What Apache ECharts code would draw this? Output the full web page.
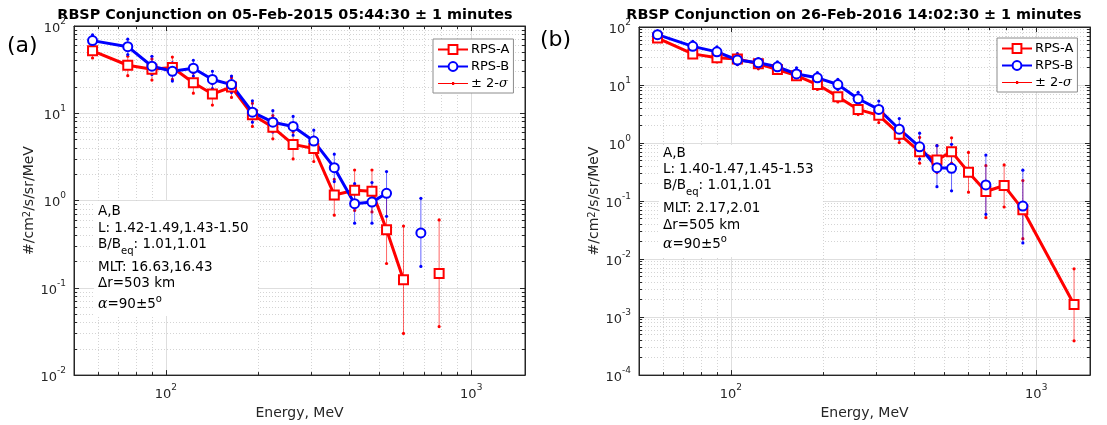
<!DOCTYPE html>
<html><head><meta charset="utf-8">
<script src="https://cdn.jsdelivr.net/npm/echarts@6/dist/echarts.min.js"></script>
<style>html,body{margin:0;padding:0;background:#fff}#c{width:1107px;height:425px}</style>
</head><body><div id="c"></div>
<script>
// Energy channels (MeV)
const energies = [57.5, 75, 90, 105, 123, 142, 164, 192, 224, 261, 305, 356, 415, 473, 528, 600, 684, 785, 904, 1330];

// Panel (a) 05-Feb-2015
const aRed    = [52, 35.5, 32, 33.5, 22.4, 16.6, 20, 9.6, 6.9, 4.4, 3.95, 1.16, 1.31, 1.28, 0.464, 0.124, null, 0.146, null, null];
const aRedLo  = [43, 27, 24, 24.4, 17, 12.4, 15.2, 7.06, 5.1, 3.0, 2.8, 0.68, 0.77, 0.74, 0.19, 0.030, null, 0.036, null, null];
const aRedHi  = [62, 45, 42, 44, 29, 22, 25.6, 13, 9.4, 6.1, 5.35, 1.75, 2.24, 2.24, 1.13, 0.51, null, 0.60, null, null];
const aBlue   = [68, 58, 34.6, 30.3, 32.8, 24.4, 21.3, 10.3, 7.9, 7.06, 4.8, 2.38, 0.92, 0.96, 1.21, null, 0.426, null, null, null];
const aBlueLo = [58, 47, 27.9, 23.4, 26.7, 19.2, 17.3, 7.9, 6.1, 5.6, 3.8, 1.65, 0.55, 0.55, 0.66, null, 0.176, null, null, null];
const aBlueHi = [79, 70.7, 45, 37.8, 40.5, 30.3, 26.7, 13.9, 10.7, 9.2, 6.4, 3.4, 1.56, 1.61, 2.15, null, 1.06, null, null, null];

// Panel (b) 26-Feb-2016
const bRed    = [64.6, 34.4, 29.4, 28, 23.3, 18.5, 14.5, 10.2, 6.3, 3.8, 3.0, 1.42, 0.71, 0.51, 0.71, 0.313, 0.146, 0.185, 0.071, 0.00165];
const bRedLo  = [56.6, 30.5, 25, 22.5, 19, 15.8, 12.5, 8.4, 5.1, 3.1, 2.25, 1.02, 0.45, 0.31, 0.45, 0.142, 0.052, 0.079, 0.0225, 0.00039];
const bRedHi  = [74, 40.8, 35.8, 34, 27, 21.9, 17.5, 12.5, 7.2, 4.8, 3.9, 2.03, 1.25, 0.9, 1.23, 0.69, 0.41, 0.42, 0.225, 0.0068];
const bBlue   = [73.8, 46.4, 37.3, 27, 24.2, 20.6, 15.5, 13.3, 10.2, 5.8, 3.8, 1.73, 0.86, 0.376, 0.366, null, 0.19, null, 0.082, null];
const bBlueLo = [65, 38, 30.5, 22.5, 19.8, 16.3, 13.3, 11, 8.4, 4.35, 2.75, 1.17, 0.53, 0.177, 0.15, null, 0.059, null, 0.019, null];
const bBlueHi = [86, 56.6, 45.4, 34.8, 28.6, 25, 19.8, 16.3, 12.5, 7.5, 5.3, 2.64, 1.48, 0.9, 0.95, null, 0.62, null, 0.34, null];

const titles = ['RBSP Conjunction on 05-Feb-2015 05:44:30 \u00b1 1 minutes', 'RBSP Conjunction on 26-Feb-2016 14:02:30 \u00b1 1 minutes'];
const seriesNames = ['RPS-A', 'RPS-B', '\u00b1 2-\u03c3'];
const infoA = ['A,B', 'L: 1.42-1.49,1.43-1.50', 'B/B{sub|eq}: 1.01,1.01', 'MLT: 16.63,16.43', '\u0394r=503 km', '{a|\u03b1}=90\u00b15{sup|o}'];
const infoB = ['A,B', 'L: 1.40-1.47,1.45-1.53', 'B/B{sub|eq}: 1.01,1.01', 'MLT: 2.17,2.01', '\u0394r=505 km', '{a|\u03b1}=90\u00b15{sup|o}'];
const xRange = [50, 1500];
const yRanges = [[0.01, 100], [0.0001, 100]];

const FONT = 'DejaVu Sans';
const DARK = '#262626';

function pairs(vals) { return energies.map((e, i) => [e, vals[i] == null ? '-' : vals[i]]); }
function errs(lo, hi) { const out = []; energies.forEach((e, i) => { if (lo[i] != null) out.push([e, lo[i], hi[i]]); }); return out; }
function logLabel(v) {
  const e = Math.log10(v), r = Math.round(e);
  if (Math.abs(e - r) > 1e-6) return '';
  return '{b|10}{s|' + r + '}';
}
const tickRich = {
  b: { fontFamily: FONT, fontSize: 13, color: DARK, lineHeight: 18, verticalAlign: 'bottom' },
  s: { fontFamily: FONT, fontSize: 9, color: DARK, lineHeight: 8, verticalAlign: 'top' }
};
const grids = [
  { left: 74, top: 26, width: 451, height: 353 },
  { left: 639, top: 27, width: 451, height: 352 }
];
function axisCommon(isMain) {
  return {
    type: 'log', logBase: 10,
    axisLine: { show: true, lineStyle: { color: DARK, width: 1 } },
    axisTick: { show: true, inside: true, length: 5, lineStyle: { color: DARK } },
    minorTick: { show: true, splitNumber: 9, length: 3, lineStyle: { color: DARK } },
    splitLine: { show: isMain, lineStyle: { color: '#dedede', width: 1 } },
    minorSplitLine: { show: isMain, lineStyle: { color: '#d4d4d4', width: 1, type: [1, 2] } },
    axisLabel: isMain ? { formatter: logLabel, rich: tickRich, margin: 8 } : { show: false }
  };
}
const xAxes = [], yAxes = [];
[0, 1].forEach(g => {
  xAxes.push(Object.assign(axisCommon(true), {
    gridIndex: g, position: 'bottom', min: xRange[0], max: xRange[1],
    name: 'Energy, MeV', nameLocation: 'middle', nameGap: 28,
    nameTextStyle: { fontFamily: FONT, fontSize: 14, color: DARK }
  }));
  yAxes.push(Object.assign(axisCommon(true), {
    gridIndex: g, position: 'left', min: yRanges[g][0], max: yRanges[g][1],
    name: '#/cm{sup|2}/s/sr/MeV', nameLocation: 'middle', nameGap: 38,
    nameTextStyle: { fontFamily: FONT, fontSize: 14, color: DARK,
      rich: { sup: { fontFamily: FONT, fontSize: 10, color: DARK, lineHeight: 8, verticalAlign: 'top' } } }
  }));
});
[0, 1].forEach(g => {
  xAxes.push(Object.assign(axisCommon(false), { gridIndex: g, position: 'top', min: xRange[0], max: xRange[1] }));
  yAxes.push(Object.assign(axisCommon(false), { gridIndex: g, position: 'right', min: yRanges[g][0], max: yRanges[g][1] }));
});

function errSeries(g, data, color, lineColor) {
  return {
    type: 'custom', name: seriesNames[2], xAxisIndex: g, yAxisIndex: g, z: 2,
    itemStyle: { color: color }, silent: true,
    encode: { x: 0, y: [1, 2] },
    data: data,
    renderItem: function (params, api) {
      const x = api.value(0);
      const p1 = api.coord([x, api.value(1)]);
      const p2 = api.coord([x, api.value(2)]);
      return { type: 'group', children: [
        { type: 'line', shape: { x1: p1[0], y1: p1[1], x2: p2[0], y2: p2[1] }, style: { stroke: lineColor, lineWidth: 1 } },
        { type: 'circle', shape: { cx: p1[0], cy: p1[1], r: 1.6 }, style: { fill: color } },
        { type: 'circle', shape: { cx: p2[0], cy: p2[1], r: 1.6 }, style: { fill: color } }
      ] };
    }
  };
}
function lineSeries(g, name, vals, color, symbol) {
  return {
    type: 'line', name: name, xAxisIndex: g, yAxisIndex: g, z: 3,
    data: pairs(vals), symbol: symbol, symbolSize: 9, showAllSymbol: true,
    lineStyle: { color: color, width: 3 }, itemStyle: { color: color, borderWidth: 2 },
    emphasis: { disabled: true }, connectNulls: false
  };
}
const series = [];
[[aRed, aRedLo, aRedHi, aBlue, aBlueLo, aBlueHi], [bRed, bRedLo, bRedHi, bBlue, bBlueLo, bBlueHi]].forEach((d, g) => {
  series.push(errSeries(g, errs(d[1], d[2]), '#ff0000', 'rgba(255,0,0,0.6)'));
  series.push(errSeries(g, errs(d[4], d[5]), '#0000ff', 'rgba(0,0,255,0.6)'));
  series.push(lineSeries(g, seriesNames[0], d[0], '#ff0000', 'emptyRect'));
  series.push(lineSeries(g, seriesNames[1], d[3], '#0000ff', 'emptyCircle'));
});

function legendAt(left, top) {
  return {
    orient: 'vertical', left: left, top: top, padding: [4, 4, 3, 4], itemGap: 4,
    itemWidth: 30, itemHeight: 11, backgroundColor: '#fff', borderColor: '#8c8c8c', borderWidth: 1,
    selectedMode: false,
    data: [{ name: seriesNames[0] }, { name: seriesNames[1] },
      { name: seriesNames[2], icon: 'path://M0,0M30,11M0,5h30v1h-30zM14,4h2.2v3h-2.2z' }],
    formatter: n => n === seriesNames[2] ? '\u00b1 2-{i|\u03c3}' : n,
    textStyle: { fontFamily: FONT, fontSize: 13, color: '#000', padding: [0, 0, 0, -2],
      rich: { i: { fontFamily: 'DejaVu Serif', fontStyle: 'italic', fontSize: 13, color: '#000' } } }
  };
}

// text measurement for placing sub/superscript pieces
const mctx = document.createElement('canvas').getContext('2d');
const segStyle = {
  '':  { size: 13.5, fam: FONT, italic: false, dy: 0 },
  sub: { size: 10, fam: FONT, italic: false, dy: 7.5 },
  sup: { size: 10, fam: FONT, italic: false, dy: -5 },
  a:   { size: 14, fam: 'DejaVu Serif', italic: true, dy: 0 }
};
function textW(t, s) { mctx.font = (s.italic ? 'italic ' : '') + s.size + 'px "' + s.fam + '"'; return mctx.measureText(t).width; }
function parseSegs(t) {
  const re = /\{(\w+)\|([^}]*)\}|([^{]+)/g; const out = []; let m;
  while ((m = re.exec(t))) out.push(m[3] != null ? ['', m[3]] : [m[1], m[2]]);
  return out;
}
function infoBox(x, rect, lines, centers) {
  const els = [{ type: 'rect', shape: rect, style: { fill: '#fff' }, z: 10, silent: true }];
  lines.forEach((t, i) => {
    let cx = x;
    parseSegs(t).forEach(([k, s]) => {
      const st = segStyle[k];
      els.push({ type: 'text', x: cx, y: centers[i] + st.dy, z: 11, silent: true,
        style: { text: s, fontFamily: st.fam, fontSize: st.size, fontStyle: st.italic ? 'italic' : 'normal',
          fill: '#000', align: 'left', verticalAlign: 'middle' } });
      cx += textW(s, st);
    });
  });
  return els;
}

const graphic = [
  { type: 'text', x: 285, y: 15, style: { text: titles[0], fontFamily: FONT, fontWeight: 'bold', fontSize: 14.4, fill: '#000', align: 'center', verticalAlign: 'middle' } },
  { type: 'text', x: 854, y: 15, style: { text: titles[1], fontFamily: FONT, fontWeight: 'bold', fontSize: 14.4, fill: '#000', align: 'center', verticalAlign: 'middle' } },
  { type: 'text', x: 7, y: 46, style: { text: '(a)', fontFamily: FONT, fontSize: 22, fill: '#000', align: 'left', verticalAlign: 'middle' } },
  { type: 'text', x: 540, y: 40, style: { text: '(b)', fontFamily: FONT, fontSize: 22, fill: '#000', align: 'left', verticalAlign: 'middle' } }
].concat(
  infoBox(98, { x: 94, y: 201, width: 164, height: 115 }, infoA, [211.7, 228.3, 244.3, 267.7, 283.3, 304.3]),
  infoBox(663, { x: 659, y: 145, width: 164, height: 112 }, infoB, [153.3, 169, 185, 208.3, 225, 244])
);

const chart = echarts.init(document.getElementById('c'), null, { renderer: 'canvas' });
chart.setOption({
  animation: false,
  backgroundColor: '#fff',
  grid: grids.map(g => Object.assign({ show: true, borderColor: DARK, borderWidth: 1, backgroundColor: 'transparent', containLabel: false }, g)),
  xAxis: xAxes,
  yAxis: yAxes,
  legend: [legendAt(433, 39), legendAt(997, 38)],
  series: series,
  graphic: graphic,
  tooltip: { show: false }
});
</script></body></html>
